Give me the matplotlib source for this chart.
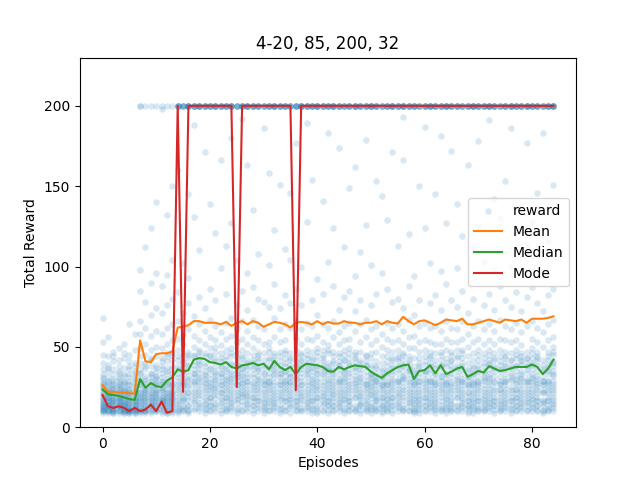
import matplotlib
matplotlib.use("Agg")
import matplotlib.pyplot as plt
import numpy as np

TITLE = "4-20, 85, 200, 32"

# how many of the runs reached the 200 cap in each episode
TOP_COUNT = [0, 0, 0, 0, 0, 0, 0, 2, 1, 1,
             1, 1, 1, 1, 6, 5, 7, 6, 7, 6,
             6, 7, 6, 6, 7, 5, 6, 7, 6, 6,
             5, 6, 7, 6, 6, 5, 6, 7, 6, 6,
             7, 6, 6, 7, 6, 5, 6, 7, 6, 6,
             7, 6, 5, 6, 7, 6, 7, 6, 6, 5,
             6, 7, 6, 6, 7, 6, 6, 5, 6, 7,
             6, 6, 7, 6, 5, 6, 7, 6, 6, 7,
             6, 6, 5, 6, 7]
TOP_VALUE = 200

# rewards of the remaining runs, one row per episode
LOW_REWARDS = [
    [68, 53, 45, 40, 36, 33, 30, 28, 26, 25, 24, 22, 21, 20, 19, 18, 17, 16, 15, 15, 14, 13, 13, 12, 12, 11, 11, 10, 10, 9, 31, 27],
    [56, 44, 39, 35, 31, 29, 27, 25, 23, 22, 21, 20, 19, 18, 17, 16, 16, 15, 14, 14, 13, 13, 12, 11, 11, 10, 10, 9, 24, 28, 37, 19],
    [47, 41, 36, 33, 30, 27, 25, 24, 22, 21, 20, 19, 18, 17, 16, 15, 15, 14, 13, 12, 12, 11, 11, 10, 10, 9, 9, 26, 23, 29, 17, 44],
    [49, 42, 38, 34, 30, 28, 26, 24, 23, 21, 20, 19, 18, 17, 16, 15, 14, 14, 13, 13, 12, 11, 10, 10, 9, 22, 25, 27, 31, 18, 16, 35],
    [52, 43, 37, 32, 29, 27, 25, 23, 22, 20, 19, 18, 17, 16, 15, 14, 14, 13, 12, 12, 11, 11, 10, 10, 9, 9, 21, 24, 28, 33, 15, 46],
    [64, 45, 38, 33, 29, 26, 24, 22, 21, 20, 18, 17, 16, 15, 15, 14, 13, 12, 12, 11, 11, 10, 10, 10, 9, 9, 19, 23, 27, 31, 36, 41],
    [58, 48, 40, 35, 31, 28, 25, 23, 21, 19, 18, 17, 16, 15, 14, 14, 13, 12, 12, 11, 11, 10, 10, 9, 9, 20, 22, 26, 30, 34, 38, 16],
    [98, 85, 66, 58, 49, 44, 40, 36, 33, 30, 28, 26, 24, 22, 21, 20, 18, 17, 16, 15, 14, 13, 12, 11, 10, 10, 9, 27, 34, 19],
    [112, 78, 62, 52, 45, 40, 36, 32, 29, 27, 25, 23, 21, 20, 19, 18, 17, 16, 15, 14, 13, 12, 11, 11, 10, 10, 9, 24, 30, 38, 22],
    [124, 90, 70, 57, 48, 42, 38, 34, 31, 28, 26, 24, 22, 21, 20, 19, 18, 17, 16, 15, 14, 13, 12, 11, 10, 9, 25, 29, 33, 43, 14],
    [140, 96, 74, 60, 50, 44, 39, 35, 32, 30, 28, 26, 24, 23, 21, 20, 19, 18, 17, 16, 15, 14, 13, 12, 11, 10, 10, 27, 31, 37, 22],
    [198, 88, 71, 58, 49, 43, 38, 34, 31, 29, 27, 25, 23, 22, 20, 19, 18, 17, 16, 15, 14, 13, 12, 11, 10, 9, 24, 28, 36, 41, 16],
    [132, 95, 76, 62, 52, 46, 41, 37, 33, 30, 28, 26, 24, 22, 21, 20, 18, 17, 16, 15, 14, 13, 12, 11, 10, 9, 9, 27, 35, 44, 19],
    [150, 104, 80, 64, 54, 47, 42, 38, 34, 31, 29, 27, 25, 23, 22, 21, 19, 18, 17, 16, 15, 14, 13, 12, 11, 10, 9, 26, 36, 45, 20],
    [160, 84, 66, 55, 42, 38, 31, 29, 27, 25, 23, 21, 19, 17, 15, 14, 12, 11, 10, 9, 36, 44, 48, 33],
    [102, 71, 58, 45, 40, 37, 30, 28, 26, 22, 20, 18, 16, 13, 12, 11, 10, 41, 35, 27, 24, 33, 17, 52],
    [145, 93, 77, 61, 47, 43, 39, 32, 29, 25, 21, 19, 17, 14, 13, 11, 10, 9, 30, 38, 45, 26, 35, 22],
    [188, 131, 69, 57, 50, 45, 41, 34, 31, 28, 24, 22, 18, 16, 15, 12, 11, 44, 36, 29, 39, 27, 20, 33],
    [110, 81, 64, 54, 48, 44, 40, 36, 30, 26, 24, 20, 18, 15, 14, 12, 10, 39, 31, 47, 28, 22, 34, 42],
    [171, 74, 60, 52, 46, 38, 35, 32, 27, 25, 23, 21, 17, 15, 14, 12, 11, 9, 33, 40, 28, 19, 44, 30],
    [139, 86, 67, 56, 49, 44, 36, 33, 30, 28, 25, 21, 19, 16, 14, 13, 11, 10, 37, 45, 26, 41, 23, 18],
    [121, 79, 63, 54, 47, 43, 35, 32, 29, 27, 25, 22, 20, 18, 15, 14, 12, 10, 41, 34, 30, 38, 24, 50],
    [166, 99, 59, 51, 46, 41, 37, 34, 31, 26, 24, 22, 19, 17, 13, 11, 9, 38, 43, 27, 33, 29, 21, 15],
    [113, 83, 65, 55, 48, 39, 35, 32, 30, 27, 23, 21, 19, 16, 14, 12, 11, 10, 36, 42, 29, 25, 44, 18],
    [180, 127, 68, 57, 49, 44, 40, 33, 30, 26, 24, 22, 18, 16, 13, 12, 10, 39, 46, 31, 28, 35, 20, 15],
    [104, 76, 62, 53, 46, 38, 34, 31, 29, 24, 22, 20, 17, 15, 12, 11, 9, 35, 40, 27, 43, 18, 26, 32],
    [192, 85, 66, 55, 48, 43, 36, 32, 30, 27, 23, 21, 19, 16, 14, 11, 10, 37, 44, 28, 25, 40, 20, 34],
    [163, 96, 73, 60, 52, 42, 38, 31, 28, 26, 22, 20, 17, 15, 14, 12, 10, 40, 33, 29, 24, 46, 19, 36],
    [135, 87, 67, 56, 49, 40, 36, 33, 28, 25, 23, 19, 18, 14, 13, 11, 9, 38, 45, 27, 31, 21, 42, 16],
    [108, 80, 63, 54, 47, 43, 35, 32, 27, 25, 21, 19, 16, 14, 12, 10, 36, 41, 30, 38, 23, 29, 45, 17],
    [186, 78, 61, 52, 46, 37, 33, 30, 26, 24, 22, 18, 16, 13, 12, 11, 9, 34, 39, 27, 42, 20, 29, 15],
    [158, 101, 75, 53, 47, 42, 38, 31, 29, 27, 23, 21, 17, 15, 13, 11, 10, 37, 43, 28, 34, 19, 25, 49],
    [123, 89, 68, 56, 44, 40, 36, 33, 28, 26, 22, 20, 16, 15, 13, 12, 10, 39, 46, 31, 24, 35, 18, 42],
    [151, 74, 61, 53, 47, 38, 34, 31, 26, 24, 20, 18, 17, 14, 12, 11, 9, 36, 41, 27, 29, 22, 44, 33],
    [111, 82, 64, 54, 48, 43, 35, 32, 29, 25, 23, 19, 17, 16, 13, 11, 10, 35, 40, 29, 38, 21, 27, 46],
    [146, 104, 77, 62, 46, 42, 34, 31, 28, 26, 22, 20, 17, 15, 13, 12, 9, 37, 43, 28, 24, 39, 18, 32],
    [177, 86, 66, 55, 48, 39, 35, 30, 27, 25, 21, 19, 16, 14, 13, 11, 10, 38, 44, 30, 33, 23, 41, 17],
    [100, 76, 61, 52, 46, 42, 38, 31, 29, 24, 22, 20, 17, 15, 12, 11, 10, 36, 41, 27, 34, 45, 19, 26],
    [189, 128, 65, 55, 48, 40, 36, 33, 28, 26, 22, 20, 16, 15, 13, 12, 10, 39, 45, 31, 24, 35, 18, 43],
    [154, 79, 63, 54, 47, 43, 35, 32, 27, 25, 21, 19, 17, 14, 12, 11, 9, 37, 42, 28, 30, 23, 39, 16],
    [92, 70, 57, 49, 44, 36, 33, 30, 25, 23, 19, 18, 16, 13, 12, 10, 9, 34, 38, 26, 47, 21, 29, 41],
    [141, 83, 64, 53, 45, 41, 37, 31, 28, 26, 22, 20, 17, 15, 14, 11, 10, 39, 43, 33, 24, 35, 19, 48],
    [183, 103, 62, 51, 46, 38, 35, 29, 27, 25, 21, 19, 17, 14, 13, 11, 9, 36, 48, 30, 33, 23, 40, 16],
    [124, 88, 66, 56, 47, 41, 33, 29, 27, 23, 21, 18, 16, 14, 13, 11, 10, 35, 40, 25, 31, 44, 20, 37],
    [174, 73, 59, 52, 46, 39, 36, 30, 28, 26, 22, 20, 16, 15, 13, 12, 10, 38, 44, 29, 33, 24, 41, 18],
    [112, 81, 63, 54, 48, 42, 34, 30, 28, 24, 22, 18, 17, 15, 12, 11, 9, 37, 41, 31, 26, 45, 20, 35],
    [149, 85, 65, 55, 49, 40, 36, 32, 27, 25, 21, 19, 16, 14, 13, 11, 10, 39, 46, 29, 34, 23, 43, 17],
    [162, 94, 72, 60, 45, 41, 38, 32, 30, 25, 23, 19, 18, 14, 12, 11, 10, 37, 43, 28, 35, 21, 27, 47],
    [109, 79, 64, 53, 47, 38, 34, 31, 26, 24, 20, 19, 15, 14, 13, 11, 9, 36, 40, 30, 28, 42, 22, 17],
    [179, 126, 67, 56, 44, 39, 35, 29, 27, 25, 21, 19, 17, 14, 12, 11, 10, 38, 45, 27, 32, 23, 41, 15],
    [101, 76, 61, 52, 46, 37, 33, 30, 25, 23, 20, 18, 15, 13, 12, 11, 9, 34, 39, 28, 26, 43, 21, 31],
    [153, 83, 63, 54, 47, 38, 34, 28, 26, 24, 20, 18, 16, 14, 12, 11, 10, 32, 37, 29, 22, 41, 17, 30],
    [144, 96, 58, 50, 44, 35, 32, 27, 25, 23, 19, 18, 14, 13, 12, 10, 9, 31, 36, 26, 29, 21, 40, 16],
    [129, 86, 65, 55, 48, 38, 34, 28, 26, 24, 20, 18, 15, 14, 12, 11, 10, 35, 41, 27, 31, 22, 44, 17],
    [171, 78, 62, 53, 47, 42, 35, 29, 27, 25, 21, 19, 16, 14, 13, 11, 9, 37, 43, 30, 33, 23, 39, 18],
    [113, 80, 64, 54, 48, 43, 36, 30, 28, 26, 22, 20, 16, 15, 13, 12, 10, 38, 44, 29, 34, 24, 41, 19],
    [193, 166, 74, 60, 52, 42, 38, 32, 30, 25, 23, 19, 17, 14, 12, 11, 10, 39, 46, 31, 35, 21, 28, 45],
    [120, 88, 67, 56, 49, 40, 36, 30, 28, 24, 22, 18, 16, 15, 13, 11, 10, 37, 42, 33, 26, 44, 20, 35],
    [94, 70, 57, 49, 43, 34, 31, 26, 24, 22, 18, 17, 14, 12, 11, 10, 9, 30, 35, 27, 20, 38, 15, 28],
    [150, 79, 63, 53, 47, 38, 34, 29, 26, 24, 20, 18, 15, 14, 12, 11, 9, 36, 40, 28, 31, 22, 43, 17],
    [187, 124, 65, 54, 48, 39, 35, 29, 27, 25, 21, 19, 16, 14, 13, 11, 10, 35, 41, 30, 33, 23, 44, 18],
    [102, 77, 62, 53, 47, 43, 36, 30, 28, 24, 22, 18, 16, 15, 13, 12, 10, 38, 44, 29, 34, 20, 40, 26],
    [145, 82, 63, 52, 46, 37, 33, 28, 26, 22, 20, 18, 15, 13, 12, 11, 9, 34, 39, 27, 30, 24, 42, 16],
    [181, 97, 73, 60, 52, 42, 38, 32, 27, 25, 21, 19, 16, 14, 12, 11, 10, 39, 45, 31, 35, 23, 29, 47],
    [127, 89, 66, 55, 48, 38, 34, 28, 26, 22, 20, 17, 15, 13, 12, 11, 9, 33, 40, 27, 30, 24, 43, 18],
    [172, 79, 62, 53, 47, 42, 34, 31, 27, 25, 21, 19, 15, 14, 12, 11, 10, 36, 41, 28, 38, 23, 45, 17],
    [139, 99, 75, 61, 53, 43, 39, 32, 29, 25, 23, 19, 18, 14, 13, 11, 10, 37, 44, 30, 35, 21, 27, 48],
    [119, 85, 66, 55, 48, 40, 36, 30, 28, 24, 22, 18, 16, 15, 13, 12, 10, 38, 43, 29, 33, 46, 20, 26],
    [163, 71, 58, 50, 44, 35, 32, 27, 25, 21, 19, 17, 14, 13, 12, 10, 9, 31, 36, 26, 29, 22, 40, 16],
    [112, 80, 63, 53, 46, 37, 33, 28, 26, 22, 20, 16, 15, 13, 12, 11, 9, 34, 38, 27, 30, 24, 42, 18],
    [178, 125, 66, 55, 48, 39, 35, 29, 27, 23, 21, 19, 16, 14, 12, 11, 10, 36, 42, 28, 32, 25, 45, 17],
    [103, 76, 61, 52, 46, 38, 34, 29, 26, 24, 20, 18, 15, 14, 12, 11, 10, 35, 40, 30, 31, 22, 43, 17],
    [191, 83, 64, 54, 48, 40, 36, 30, 28, 24, 22, 18, 16, 15, 13, 12, 10, 39, 45, 31, 33, 26, 42, 20],
    [142, 98, 73, 60, 52, 42, 38, 32, 29, 25, 23, 19, 17, 14, 13, 11, 9, 37, 43, 28, 35, 21, 46, 16],
    [130, 88, 67, 55, 48, 39, 35, 29, 27, 23, 21, 17, 15, 14, 12, 11, 10, 36, 41, 27, 31, 24, 44, 19],
    [153, 79, 63, 54, 47, 43, 36, 30, 28, 24, 22, 18, 16, 15, 13, 12, 10, 38, 44, 29, 33, 26, 40, 20],
    [186, 100, 75, 61, 53, 42, 38, 32, 29, 25, 23, 19, 17, 14, 12, 11, 9, 37, 42, 30, 34, 21, 46, 16],
    [121, 84, 65, 54, 48, 39, 35, 30, 27, 23, 21, 18, 16, 14, 13, 11, 10, 38, 45, 28, 32, 24, 43, 19],
    [138, 72, 59, 51, 46, 42, 35, 30, 28, 24, 22, 18, 16, 15, 13, 12, 10, 39, 44, 31, 33, 26, 41, 20],
    [177, 113, 81, 63, 47, 43, 36, 30, 28, 24, 22, 18, 16, 15, 13, 11, 10, 38, 43, 29, 34, 26, 40, 20],
    [128, 87, 66, 55, 49, 40, 36, 30, 28, 24, 22, 18, 17, 15, 13, 12, 10, 39, 46, 31, 33, 26, 43, 20],
    [146, 77, 62, 53, 47, 43, 35, 30, 27, 23, 21, 17, 16, 14, 13, 11, 10, 38, 44, 28, 32, 25, 41, 19],
    [183, 97, 72, 59, 50, 39, 35, 29, 27, 23, 21, 17, 16, 13, 11, 10, 9, 31, 36, 26, 29, 22, 42, 15],
    [116, 82, 64, 54, 47, 39, 35, 29, 27, 23, 21, 17, 16, 14, 12, 11, 10, 37, 42, 29, 33, 25, 44, 19],
    [151, 86, 67, 56, 50, 41, 38, 32, 29, 25, 23, 19, 17, 15, 14, 12, 10, 40, 47, 33, 35, 27, 45, 21],
]

MEAN = [26, 22, 22, 21.5, 21.5, 21, 21, 54, 41, 40.5,
        45.5, 46, 46, 47, 62, 62.5, 63.5, 66, 66, 65,
        65, 65, 64, 65.5, 63, 65, 66, 64, 66, 65,
        62.5, 64, 65.5, 65, 64, 62, 65, 65.5, 65, 64,
        66, 64, 65.5, 64.5, 64.5, 66, 65, 65, 64, 65,
        65, 66, 64, 66, 65, 64.5, 68.7, 66, 64, 66,
        66.5, 65, 63.5, 65, 67, 66.5, 66, 67.5, 64, 64,
        65, 66, 67, 66, 65, 67, 66.5, 66, 67, 65,
        67.5, 67.5, 67.5, 68, 69]

MEDIAN = [23.5, 20.5, 20, 19.5, 18.5, 17.5, 17, 30, 24.5, 27.5,
          25.5, 25, 29, 31, 36, 34.5, 35.5, 42, 43, 42.5,
          40.5, 40, 39, 40.5, 37.5, 36.5, 38.5, 39, 40, 38.5,
          39.5, 36, 41.3, 37.5, 35.5, 37.5, 33, 37.5, 39.5, 39,
          38.5, 37.5, 35, 34.5, 37.5, 36, 37.5, 38.5, 38, 37.5,
          34.5, 32.5, 30.7, 33.5, 35.5, 37.5, 38.5, 39, 30, 35,
          35.5, 38.5, 33.5, 38.6, 33, 34.5, 36.5, 37.5, 31.3, 33,
          35, 34, 38, 36.5, 35, 35.5, 36.5, 37.5, 37.5, 37.5,
          39, 37.5, 33, 36.5, 42]

MODE = [20, 13, 12, 13, 12, 10, 12, 10, 11, 14,
        10, 16, 9, 10, 200, 22, 200, 200, 200, 200,
        200, 200, 200, 200, 200, 25, 200, 200, 200, 200,
        200, 200, 200, 200, 200, 200, 23, 200, 200, 200,
        200, 200, 200, 200, 200, 200, 200, 200, 200, 200,
        200, 200, 200, 200, 200, 200, 200, 200, 200, 200,
        200, 200, 200, 200, 200, 200, 200, 200, 200, 200,
        200, 200, 200, 200, 200, 200, 200, 200, 200, 200,
        200, 200, 200, 200, 200]


def main():
    episodes = np.arange(len(MEAN))
    xs, ys = [], []
    for ep, (n_top, row) in enumerate(zip(TOP_COUNT, LOW_REWARDS)):
        vals = [TOP_VALUE] * n_top + list(row)
        xs += [ep] * len(vals)
        ys += vals

    fig, ax = plt.subplots(figsize=(6.4, 4.8), dpi=100)
    ax.scatter(xs, ys, s=22, alpha=0.17, color="C0", linewidths=0,
               label="reward")
    ax.plot(episodes, MEAN, color="C1", label="Mean")
    ax.plot(episodes, MEDIAN, color="C2", label="Median")
    ax.plot(episodes, MODE, color="C3", label="Mode")

    ax.set_ylim(0, 230)
    ax.set_title(TITLE)
    ax.set_xlabel("Episodes")
    ax.set_ylabel("Total Reward")
    ax.legend(loc="center right")
    fig.savefig("out.png", dpi=100)


if __name__ == "__main__":
    main()
